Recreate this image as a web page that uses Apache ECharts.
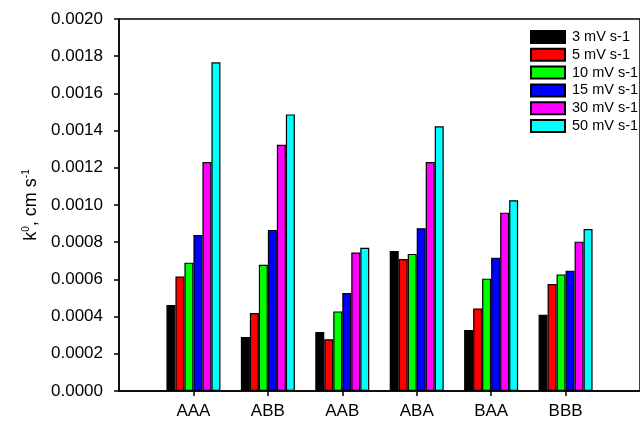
<!DOCTYPE html>
<html>
<head>
<meta charset="utf-8">
<script src="https://cdn.jsdelivr.net/npm/echarts@6/dist/echarts.min.js"></script>
<style>
  html, body { margin: 0; padding: 0; background: #fff; }
  #chart { width: 640px; height: 423px; }
</style>
</head>
<body>
<div id="chart"></div>
<script>
// categories sit at x = 1..6 on a value axis (empty slot before AAA)
const categories = ['AAA', 'ABB', 'AAB', 'ABA', 'BAA', 'BBB']
const seriesNames = ['3 mV s-1', '5 mV s-1', '10 mV s-1', '15 mV s-1', '30 mV s-1', '50 mV s-1']
const colors = ['#000000', '#ff0000', '#00ff00', '#0000ff', '#ff00ff', '#00ffff']

const rate3 = [0.000462, 0.000290, 0.000317, 0.000753, 0.000328, 0.000410]
const rate5 = [0.000615, 0.000419, 0.000278, 0.000710, 0.000443, 0.000575]
const rate10 = [0.000690, 0.000679, 0.000428, 0.000737, 0.000604, 0.000627]
const rate15 = [0.000839, 0.000866, 0.000527, 0.000875, 0.000717, 0.000647]
const rate30 = [0.001231, 0.001324, 0.000745, 0.001231, 0.000959, 0.000803]
const rate50 = [0.001767, 0.001487, 0.000770, 0.001423, 0.001025, 0.000871]
const values = [rate3, rate5, rate10, rate15, rate30, rate50]

const font = 'Liberation Sans, Arial, sans-serif'
const chart = echarts.init(document.getElementById('chart'))

chart.setOption({
  animation: false,
  grid: {
    left: 119, right: -11, top: 19, bottom: 32,
    show: true, borderColor: '#000', borderWidth: 1.5
  },
  legend: {
    left: 530, top: 29.5, orient: 'vertical', padding: 0,
    icon: 'rect',
    itemWidth: 34, itemHeight: 12, itemGap: 2.8,
    textStyle: { fontFamily: font, fontSize: 14.5, lineHeight: 12, color: '#000', padding: [0, 0, 0, 2] },
    data: seriesNames
  },
  xAxis: {
    type: 'value', min: 0, max: 7, interval: 1,
    splitLine: { show: false },
    axisLine: { onZero: false, lineStyle: { color: '#000', width: 1.5 } },
    axisTick: { length: 5, lineStyle: { color: '#000', width: 1.5 }, customValues: [1, 2, 3, 4, 5, 6] },
    axisLabel: {
      customValues: [1, 2, 3, 4, 5, 6],
      formatter: (v) => categories[v - 1] || '',
      fontFamily: font, fontSize: 17, color: '#000', margin: 12
    }
  },
  yAxis: {
    type: 'value', min: 0, max: 0.002, interval: 0.0002,
    splitLine: { show: false },
    axisLine: { show: true, lineStyle: { color: '#000', width: 1.5 } },
    axisTick: { show: true, length: 5, lineStyle: { color: '#000', width: 1.5 } },
    axisLabel: {
      formatter: (v) => v.toFixed(4),
      fontFamily: font, fontSize: 17, color: '#000', margin: 16
    },
    name: 'k{sup|0}, cm s{sup|-1}',
    nameLocation: 'middle',
    nameGap: 78,
    nameRotate: 90,
    nameTextStyle: {
      fontFamily: font, fontSize: 18, color: '#000',
      rich: {
        sup: { fontFamily: font, fontSize: 10, color: '#000', padding: [0, 0, 10, 0] }
      }
    }
  },
  series: values.map((arr, i) => ({
    name: seriesNames[i],
    type: 'bar',
    barWidth: 9,
    barGap: '0%',
    itemStyle: { color: colors[i], borderColor: '#000', borderWidth: 1.2 },
    data: arr.map((v, j) => [j + 1, v])
  }))
})
</script>
</body>
</html>
